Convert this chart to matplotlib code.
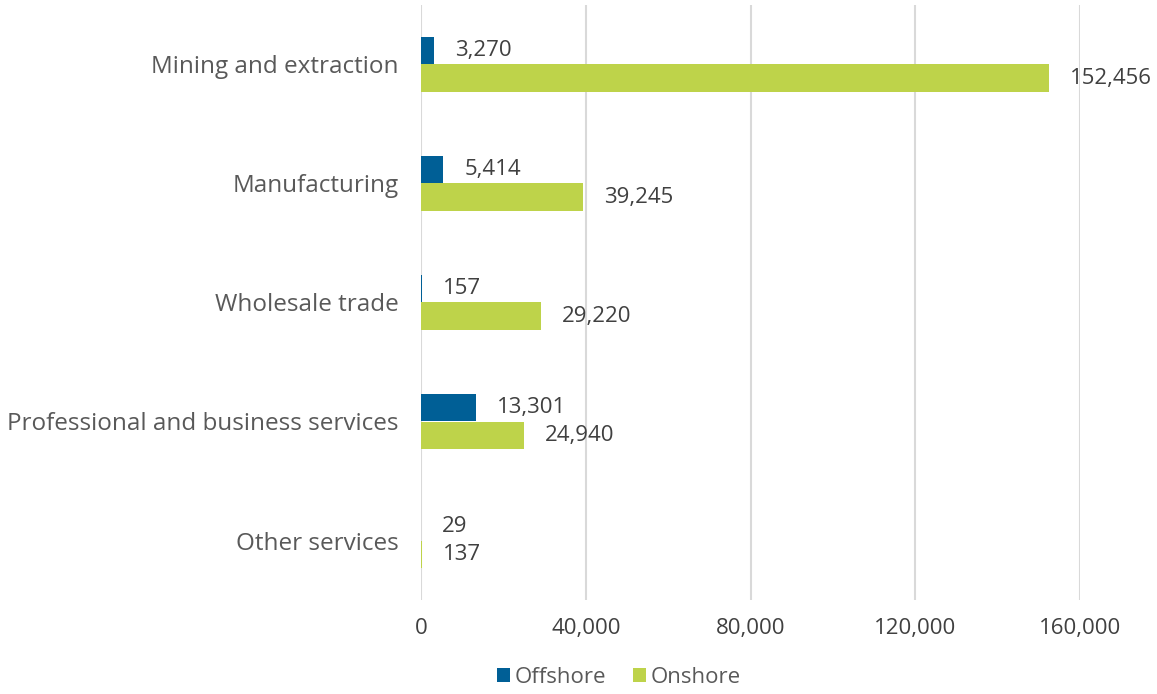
import matplotlib.pyplot as plt
import numpy as np

plt.rcParams['font.family'] = ['Open Sans', 'DejaVu Sans']

categories = ['Mining and extraction', 'Manufacturing', 'Wholesale trade',
              'Professional and business services', 'Other services']
offshore = [3270, 5414, 157, 13301, 29]
onshore = [152456, 39245, 29220, 24940, 137]

c_off = '#005f96'
c_on = '#bed34a'

fig = plt.figure(figsize=(11.57, 6.94), dpi=100)
ax = fig.add_axes([421/1157, 1-600/694, (1080-421)/1157, 595/694])

y = np.arange(len(categories))
h = 0.235
ax.barh(y - h/2, offshore, height=h, color=c_off, label='Offshore', zorder=3, linewidth=0)
ax.barh(y + h/2, onshore, height=h, color=c_on, label='Onshore', zorder=3, linewidth=0)

off = 21 * 0.72  # px -> points
for i in range(len(categories)):
    ax.annotate(f'{offshore[i]:,}', (offshore[i], y[i] - h/2), xytext=(off, 0),
                textcoords='offset points', va='center', ha='left', fontsize=16, color='#404040')
    ax.annotate(f'{onshore[i]:,}', (onshore[i], y[i] + h/2), xytext=(off, 0),
                textcoords='offset points', va='center', ha='left', fontsize=16, color='#404040',
                annotation_clip=False)

ax.set_ylim(len(categories) - 0.5, -0.5)
ax.set_xlim(0, 160000)
ax.set_xticks([0, 40000, 80000, 120000, 160000])
ax.set_xticklabels(['0', '40,000', '80,000', '120,000', '160,000'])
ax.set_yticks(y)
ax.set_yticklabels(categories)
ax.tick_params(axis='x', labelsize=16, colors='#404040', length=0, pad=13)
ax.tick_params(axis='y', labelsize=17.5, colors='#595959', length=0, pad=16)
ax.grid(axis='x', color='#d9d9d9', linewidth=1.5, zorder=0)
for s in ax.spines.values():
    s.set_visible(False)

fig.legend(loc='lower center', bbox_to_anchor=(0.535, -0.02), ncol=2, frameon=False,
           fontsize=16, labelcolor='#595959', handlelength=0.6, handleheight=0.6,
           handletextpad=0.2, columnspacing=1.2)

fig.savefig('out.png', dpi=100)
